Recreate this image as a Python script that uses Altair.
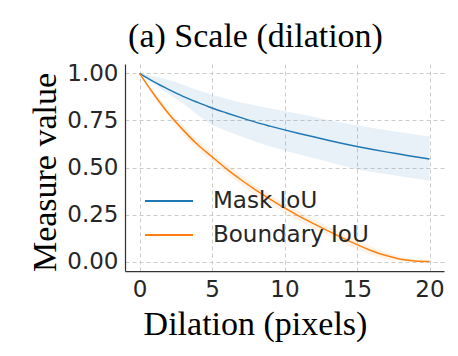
import altair as alt
import pandas as pd

# ---- data ----
dilation = list(range(21))
mask_mean = [1.0, 0.955, 0.915, 0.878, 0.846, 0.816, 0.79, 0.765, 0.741, 0.72, 0.70,
             0.681, 0.663, 0.645, 0.628, 0.612, 0.597, 0.583, 0.57, 0.557, 0.545]
mask_upper = [1.0, 0.985, 0.965, 0.94, 0.912, 0.887, 0.865, 0.845, 0.83, 0.815, 0.80,
              0.785, 0.77, 0.752, 0.738, 0.725, 0.711, 0.699, 0.687, 0.676, 0.665]
mask_lower = [1.0, 0.945, 0.89, 0.84, 0.78, 0.727, 0.695, 0.665, 0.638, 0.613, 0.59,
              0.57, 0.55, 0.53, 0.51, 0.49, 0.477, 0.465, 0.453, 0.441, 0.43]
boundary_mean = [1.0, 0.888, 0.787, 0.70, 0.622, 0.557, 0.493, 0.435, 0.381, 0.332, 0.285,
                 0.242, 0.202, 0.163, 0.126, 0.09, 0.058, 0.032, 0.013, 0.003, 0.0]
boundary_upper = [1.0, 0.903, 0.807, 0.723, 0.647, 0.582, 0.518, 0.46, 0.406, 0.357, 0.31,
                  0.267, 0.227, 0.188, 0.151, 0.114, 0.08, 0.05, 0.027, 0.012, 0.006]
boundary_lower = [1.0, 0.873, 0.767, 0.677, 0.597, 0.532, 0.468, 0.41, 0.356, 0.307, 0.26,
                  0.217, 0.177, 0.138, 0.101, 0.066, 0.036, 0.014, 0.002, 0.0, 0.0]

series_names = ["Mask IoU", "Boundary IoU"]
series_colors = ["#1f77b4", "#ff7f0e"]
x_ticks = [0, 5, 10, 15, 20]
y_ticks = [0.0, 0.25, 0.5, 0.75, 1.0]

rows = []
for name, means, lows, highs in [
    ("Mask IoU", mask_mean, mask_lower, mask_upper),
    ("Boundary IoU", boundary_mean, boundary_lower, boundary_upper),
]:
    for d, m, lo, hi in zip(dilation, means, lows, highs):
        rows.append({"dilation": d, "series": name, "mean": m, "lower": lo, "upper": hi})
df = pd.DataFrame(rows)

DARK = "#262626"
SANS = "DejaVu Sans"
SERIF = "Liberation Serif"

x_enc = alt.X(
    "dilation:Q",
    scale=alt.Scale(domain=[-1, 21], nice=False, zero=False),
    axis=alt.Axis(
        values=x_ticks, format="d", title="Dilation (pixels)",
        titleX=130, titleY=63, titleAlign="center", titleBaseline="alphabetic",
        labelFlush=False, labelOverlap=False,
    ),
)
y_scale = alt.Scale(domain=[-0.05, 1.05], nice=False, zero=False)
y_axis = alt.Axis(
    values=y_ticks, format=".2f", title="Measure value",
    titleX=-70, titleY=108, titleAngle=270, titleAlign="center", titleBaseline="alphabetic",
    labelFlush=False, labelOverlap=False,
)

color_scale = alt.Scale(domain=series_names, range=series_colors)

band_layers = []
for name, col in zip(series_names, series_colors):
    band_layers.append(
        alt.Chart(df).transform_filter(alt.datum.series == name)
        .mark_area(opacity=0.1, interpolate="monotone", color=col)
        .encode(
            x=x_enc,
            y=alt.Y("lower:Q", scale=y_scale, axis=y_axis),
            y2="upper:Q",
        )
    )

lines = alt.Chart(df).mark_line(strokeWidth=1.5, interpolate="monotone").encode(
    x=x_enc,
    y=alt.Y("mean:Q", scale=y_scale, axis=y_axis),
    color=alt.Color(
        "series:N", scale=color_scale,
        legend=alt.Legend(
            title=None, orient="none", legendX=31, legendY=124,
            symbolType="M-2,0H2", symbolSize=576, symbolStrokeWidth=2,
            labelFont=SANS, labelFontSize=23, labelColor=DARK, labelOffset=31,
            rowPadding=9, padding=0,
        ),
    ),
)

chart = alt.layer(*band_layers, lines).properties(
    width=319, height=207,
    autosize=alt.AutoSizeParams(type="none"),
    padding={"left": 125, "top": 64, "right": 14, "bottom": 85},
    title=alt.TitleParams(
        "(a) Scale (dilation)", font=SERIF, fontSize=34, fontWeight="normal",
        color="black", anchor="middle", frame="group", dx=-29, dy=33,
        baseline="alphabetic", offset=14,
    ),
).configure_view(stroke=None).configure_axis(
    domain=True, domainColor="#333333", domainWidth=1.25, ticks=False,
    labelFont=SANS, labelFontSize=23, labelColor=DARK, labelPadding=7,
    grid=True, gridColor="#cccccc", gridDash=[4, 3], gridWidth=1,
    titleFont=SERIF, titleFontSize=34, titleFontWeight="normal", titleColor="black",
)

chart.save("out.html", embed_options={"renderer": "svg", "actions": False})
